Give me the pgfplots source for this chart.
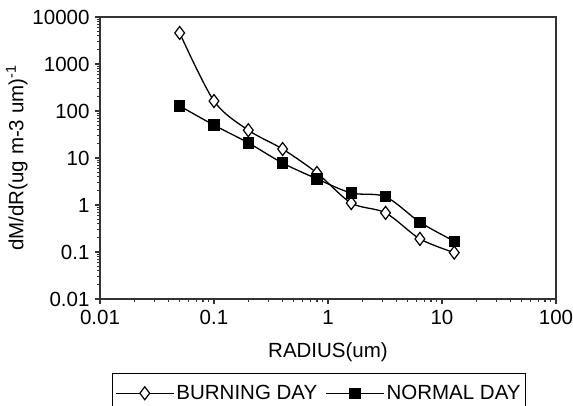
\documentclass[border=0pt]{standalone}
\usepackage{pgfplots}
\pgfplotsset{compat=1.18}
\usepackage{fontspec}
\setmainfont{Liberation Sans}
\begin{document}
\begin{tikzpicture}
\useasboundingbox (-100pt,-107pt) rectangle (473pt,299pt);
\begin{axis}[
  at={(0,0)}, anchor=south west,
  scale only axis, width=456pt, height=282pt,
  xmode=log, ymode=log,
  xmin=0.01, xmax=100, ymin=0.01, ymax=10000,
  xtick={0.01,0.1,1,10,100}, xticklabels={0.01,0.1,1,10,100},
  ytick={0.01,0.1,1,10,100,1000,10000}, yticklabels={0.01,0.1,1,10,100,1000,10000},
  minor tick num=0, minor xtick={}, minor ytick={},
  tick align=outside, major tick length=5pt,
  xtick pos=bottom, ytick pos=left,
  axis line style={line width=1.2pt, black!80},
  every tick/.style={line width=1.2pt, black!80},
  font=\fontsize{20.5}{24}\selectfont,
  xticklabel style={yshift=-3pt},
  yticklabel style={xshift=-2pt},
  xlabel={RADIUS(um)},
  ylabel={dM/dR(ug m-3 um)\textsuperscript{-1}},
  xlabel style={yshift=-11pt},
  ylabel style={yshift=-2pt},
  legend columns=2,
  legend style={at={(axis description cs:0.48,-0.262)}, anchor=north, draw=black, line width=1pt,
    font=\fontsize{20.5}{24}\selectfont, inner xsep=3pt, inner ysep=10pt,
    /tikz/every even column/.append style={column sep=6pt}},
  legend image code/.code={
    \draw[#1, mark repeat=2, mark phase=2] plot coordinates {(0pt,0pt) (29pt,0pt) (58pt,0pt)};
  },
]
\addplot[black, line width=1.3pt, smooth, tension=0.5, mark=diamond*, mark size=6.5pt,
  mark options={fill=white, line width=1.2pt, solid}]
  coordinates {(0.05,4570) (0.1,163) (0.2,39) (0.4,15.5) (0.8,4.8) (1.6,1.1) (3.2,0.68) (6.4,0.19) (12.8,0.097)};
\addlegendentry{BURNING DAY}
\addplot[black, line width=1.3pt, smooth, tension=0.5, mark=square*, mark size=5pt,
  mark options={fill=black, solid}]
  coordinates {(0.05,128) (0.1,50) (0.2,21) (0.4,7.8) (0.8,3.6) (1.6,1.8) (3.2,1.5) (6.4,0.43) (12.8,0.17)};
\addlegendentry{NORMAL DAY}
\end{axis}
\end{tikzpicture}
\end{document}
